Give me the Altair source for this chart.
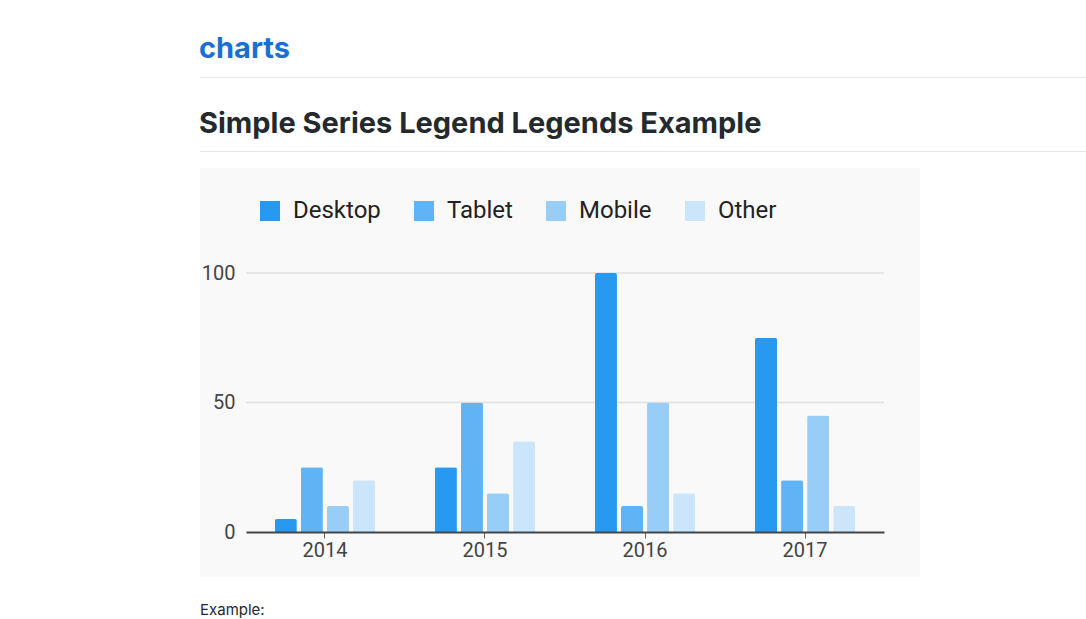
import altair as alt
import pandas as pd

years = ["2014", "2015", "2016", "2017"]
series = ["Desktop", "Tablet", "Mobile", "Other"]
desktop = [5, 25, 100, 75]
tablet = [25, 50, 10, 20]
mobile = [10, 15, 50, 45]
other = [20, 35, 15, 10]
colors = ["#2899f1", "#60b4f6", "#98cdf8", "#cbe6fb"]
grid_values = [50, 100]
tick_values = [0, 50, 100]

rows = []
for name, vals in zip(series, [desktop, tablet, mobile, other]):
    for y, v in zip(years, vals):
        rows.append({"year": y, "series": name, "value": v})
df = pd.DataFrame(rows)

one = pd.DataFrame({"k": [0]})

PL, PT, PR, PB = 246, 273, 202, 87
W, H = 638, 259

# page decorations (pixel positions relative to plot origin)
panel = alt.Chart(one).mark_rect(color="#f9f9f9").encode(
    x=alt.value(200 - PL), x2=alt.value(920 - PL),
    y=alt.value(168 - PT), y2=alt.value(577 - PT))
line1 = alt.Chart(one).mark_rule(color="#e8e8e8", strokeWidth=1).encode(
    x=alt.value(200 - PL), x2=alt.value(1086 - PL), y=alt.value(77.5 - PT))
line2 = alt.Chart(one).mark_rule(color="#e8e8e8", strokeWidth=1).encode(
    x=alt.value(200 - PL), x2=alt.value(1086 - PL), y=alt.value(151.5 - PT))
head = alt.Chart(one).mark_text(
    text="charts", font="Inter", fontSize=29, fontWeight="bold",
    color="#1a6fd4", align="left", baseline="alphabetic").encode(
    x=alt.value(199 - PL), y=alt.value(58 - PT))
title = alt.Chart(one).mark_text(
    text="Simple Series Legend Legends Example", font="Inter", fontSize=29,
    fontWeight="bold", color="#24292e", align="left", baseline="alphabetic").encode(
    x=alt.value(199 - PL), y=alt.value(133 - PT))
example = alt.Chart(one).mark_text(
    text="Example:", font="Inter", fontSize=15, color="#24292e",
    align="left", baseline="alphabetic").encode(
    x=alt.value(200 - PL), y=alt.value(615 - PT))

grid = alt.Chart(pd.DataFrame({"v": grid_values})).mark_rule(
    color="#e0e0e0", strokeWidth=1.5).encode(y=alt.Y("v:Q"))

bars = alt.Chart(df).mark_bar(cornerRadiusTopLeft=2, cornerRadiusTopRight=2).encode(
    x=alt.X("year:N", sort=years,
            scale=alt.Scale(paddingInner=0.374, paddingOuter=0.18),
            axis=alt.Axis(title=None, labelAngle=0, labelFontSize=20,
                          labelFont="Roboto", labelColor="#444444",
                          labelPadding=2, tickSize=6, tickColor="#666666",
                          domainColor="#444444", domainWidth=2, grid=False,
                          zindex=1)),
    xOffset=alt.XOffset("series:N", sort=series,
                        scale=alt.Scale(paddingInner=0.154, paddingOuter=0)),
    y=alt.Y("value:Q", scale=alt.Scale(domain=[0, 100], nice=False),
            axis=alt.Axis(title=None, values=tick_values, grid=False,
                          domain=False, ticks=False, labelFontSize=20,
                          labelFont="Roboto", labelColor="#444444",
                          labelPadding=11, zindex=1)),
    color=alt.Color("series:N", sort=series,
                    scale=alt.Scale(domain=series, range=colors),
                    legend=alt.Legend(title=None, orient="none", legendX=12,
                                      legendY=-74, direction="horizontal",
                                      symbolType="square", symbolSize=400,
                                      symbolStrokeWidth=0, symbolOpacity=1,
                                      labelFontSize=24, labelFont="Roboto",
                                      labelColor="#222222", labelOffset=11,
                                      columnPadding=31, padding=0,
                                      labelLimit=300, zindex=1)),
)

chart = alt.layer(panel, line1, line2, head, title, example, grid, bars).properties(
    width=W, height=H,
    autosize=alt.AutoSizeParams(type="none"),
    padding={"left": PL, "top": PT, "right": PR, "bottom": PB},
    background="white",
).configure_view(stroke=None)

chart.save("out.html", embed_options={"renderer": "svg", "actions": False})
